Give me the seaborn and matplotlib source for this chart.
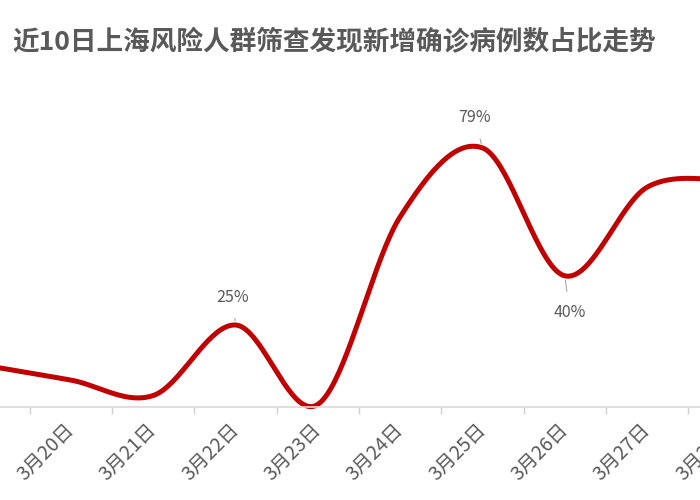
import numpy as np
import pandas as pd
import matplotlib
matplotlib.use("Agg")
import matplotlib.pyplot as plt
import seaborn as sns

categories = ["3月19日", "3月20日", "3月21日", "3月22日", "3月23日",
              "3月24日", "3月25日", "3月26日", "3月27日", "3月28日"]
values = [12.5, 8.2, 3.5, 25, 0.8, 58, 79, 40, 67, 69]
labeled = {"3月22日": "25%", "3月25日": "79%", "3月26日": "40%"}

sns.set_theme(style="white")
plt.rcParams['font.family'] = ['Noto Sans CJK SC', 'DejaVu Sans']

fig = plt.figure(figsize=(7, 5), dpi=100)
ax = fig.add_axes([-52.5 / 700, 93 / 500, 823 / 700, 328 / 500])

# Excel-like smoothed line (cubic Bezier through the points)
x = np.arange(len(values), dtype=float)
y = np.array(values, dtype=float)
xs, ys = [], []
n = len(x)
t = np.linspace(0, 1, 40)
for i in range(n - 1):
    p0 = np.array([x[max(i - 1, 0)], y[max(i - 1, 0)]])
    p1 = np.array([x[i], y[i]])
    p2 = np.array([x[i + 1], y[i + 1]])
    p3 = np.array([x[min(i + 2, n - 1)], y[min(i + 2, n - 1)]])
    c1 = p1 + (p2 - p0) / 6
    c2 = p2 - (p3 - p1) / 6
    b = ((1 - t) ** 3)[:, None] * p1 + (3 * (1 - t) ** 2 * t)[:, None] * c1 \
        + (3 * (1 - t) * t ** 2)[:, None] * c2 + (t ** 3)[:, None] * p2
    xs.extend(b[:, 0]); ys.extend(b[:, 1])
curve = pd.DataFrame({"x": xs, "y": ys})
sns.lineplot(data=curve, x="x", y="y", ax=ax, color="#C00000", linewidth=3.6,
             sort=False, clip_on=False, solid_capstyle="round")

ax.set_xlim(-0.5, len(categories) - 0.5)
ax.set_ylim(0, 100)
ax.set_xlabel(""); ax.set_ylabel("")
ax.set_yticks([])
# labels sit slightly left of the category centre (as in the original)
ax.set_xticks(np.arange(len(categories)) - 0.085)
ax.set_xticklabels(categories, rotation=45, ha="right", va="top",
                   rotation_mode="anchor", fontsize=14, color="#595959")
ax.set_xticks(np.arange(len(categories) + 1) - 0.5, minor=True)
ax.tick_params(axis="x", which="major", length=0, pad=9)
ax.tick_params(axis="x", which="minor", length=5, color="#d0d0d0", width=1,
               bottom=True)
for s in ["top", "left", "right"]:
    ax.spines[s].set_visible(False)
ax.spines["bottom"].set_color("#d9d9d9")
ax.spines["bottom"].set_linewidth(1.2)

offsets = {"3月22日": (-3, 28), "3月25日": (-8, 30), "3月26日": (5, -37)}
for cat, txt in labeled.items():
    i = categories.index(cat)
    dx, dy = offsets[cat]
    ax.annotate(txt, xy=(i, values[i]), xytext=(dx, dy), textcoords="offset pixels",
                ha="center", va="center", fontsize=11.5, color="#595959",
                arrowprops=dict(arrowstyle="-", color="#a6a6a6", lw=0.8,
                                shrinkA=7, shrinkB=3))

fig.text(12 / 700, 1 - 42 / 500, "近10日上海风险人群筛查发现新增确诊病例数占比走势",
         fontsize=19.2, fontweight="bold", color="#595959", ha="left", va="center")

fig.savefig("out.png", dpi=100)
